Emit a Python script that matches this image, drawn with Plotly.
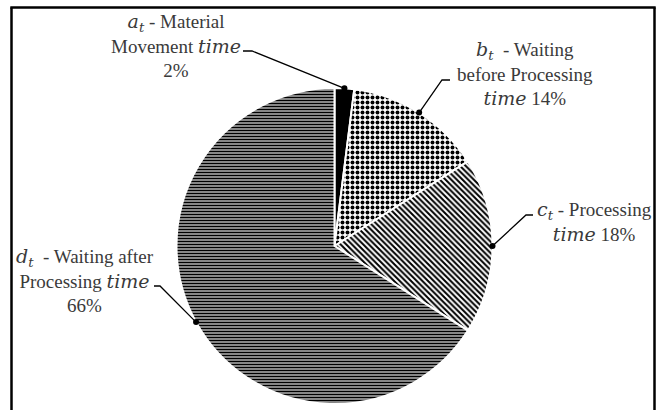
import math
import plotly.graph_objects as go

# ---- data ----
categories = ["a_t Material Movement time", "b_t Waiting before Processing time",
              "c_t Processing time", "d_t Waiting after Processing time"]
values = [2, 14, 18, 66]
label_texts = [
    "<i><span style='font-family:DejaVu Serif'>a</span></i><sub><i><span style='font-family:DejaVu Serif'>t</span></i></sub> - Material<br>Movement <i><span style='font-family:DejaVu Serif'>time</span></i><br>2%",
    "<i><span style='font-family:DejaVu Serif'>b</span></i><sub><i><span style='font-family:DejaVu Serif'>t</span></i></sub>  - Waiting<br>before Processing<br><i><span style='font-family:DejaVu Serif'>time</span></i> 14%",
    "<i><span style='font-family:DejaVu Serif'>c</span></i><sub><i><span style='font-family:DejaVu Serif'>t</span></i></sub> - Processing<br><i><span style='font-family:DejaVu Serif'>time</span></i> 18%",
    "<i><span style='font-family:DejaVu Serif'>d</span></i><sub><i><span style='font-family:DejaVu Serif'>t</span></i></sub>  - Waiting after<br>Processing <i><span style='font-family:DejaVu Serif'>time</span></i><br>66%",
]

# ---- layout geometry (pixels in the browser window, top-left origin) ----
W, H = 661, 410
OFF = 0  # body margin removed by post_script below
cx, cy, r = 334.5, 246.0, 158.0
label_pos = [(176, 45), (525, 73), (594, 221), (85, 280)]
elbows = [((243, 51), (252, 51)), ((450, 80), (442, 80)),
          ((533, 215), (526, 215)), ((154, 286), (160, 286))]
frame = dict(left=11.5, right=654.5, top=7.5)


def px(x):
    return (x - OFF) / W


def py(y):
    return 1 - (y - OFF) / H


fig = go.Figure()

fig.add_trace(go.Pie(
    labels=categories, values=values, sort=False, direction="clockwise", rotation=0,
    textinfo="none", hoverinfo="label+percent",
    domain=dict(x=[px(cx - r), px(cx + r)], y=[py(cy + r), py(cy - r)]),
    marker=dict(
        colors=["black", "white", "white", "white"],
        line=dict(color="white", width=2),
        pattern=dict(shape=["", ".", "\\", "-"], fgcolor="black", bgcolor="white",
                     size=[4, 5, 4, 3], solidity=[0.5, 0.5, 0.5, 0.65]),
    ),
    showlegend=False,
))

shapes = [
    dict(type="line", xref="paper", yref="paper", x0=px(frame["left"]), x1=px(frame["left"]),
         y0=py(frame["top"]), y1=-0.2, line=dict(color="black", width=2.5), layer="above"),
    dict(type="line", xref="paper", yref="paper", x0=px(frame["right"]), x1=px(frame["right"]),
         y0=py(frame["top"]), y1=-0.2, line=dict(color="black", width=2.5), layer="above"),
    dict(type="line", xref="paper", yref="paper", x0=px(frame["left"] - 1.2), x1=px(frame["right"] + 1.2),
         y0=py(frame["top"]), y1=py(frame["top"]), line=dict(color="black", width=2.5), layer="above"),
]

cum = 0
for v, (e1, e2) in zip(values, elbows):
    mid = (cum + v / 2) / sum(values)
    cum += v
    th = 2 * math.pi * mid
    dx, dy = cx + r * math.sin(th), cy - r * math.cos(th)
    shapes.append(dict(type="path", xref="x", yref="y", layer="above",
                       path=f"M {e1[0]},{e1[1]} L {e2[0]},{e2[1]} L {dx:.1f},{dy:.1f}",
                       line=dict(color="black", width=1.3)))
    shapes.append(dict(type="circle", xref="x", yref="y", layer="above",
                       x0=dx - 3, x1=dx + 3, y0=dy - 3, y1=dy + 3,
                       fillcolor="black", line=dict(color="black", width=0)))

annotations = [dict(x=x, y=y, xref="x", yref="y", text=t, showarrow=False,
                    xanchor="center", yanchor="middle", align="center",
                    font=dict(family="Liberation Serif", size=19, color="#3a3a3a"))
               for (x, y), t in zip(label_pos, label_texts)]

fig.update_layout(
    width=W, height=H, margin=dict(l=0, r=0, t=0, b=0),
    paper_bgcolor="white", plot_bgcolor="white",
    xaxis=dict(range=[OFF, W + OFF], visible=False, fixedrange=True),
    yaxis=dict(range=[H + OFF, OFF], visible=False, fixedrange=True),
    shapes=shapes, annotations=annotations,
)

fig.write_html("out.html", config={"displayModeBar": False},
               post_script="document.body.style.margin='0px';document.body.style.overflow='hidden';")
